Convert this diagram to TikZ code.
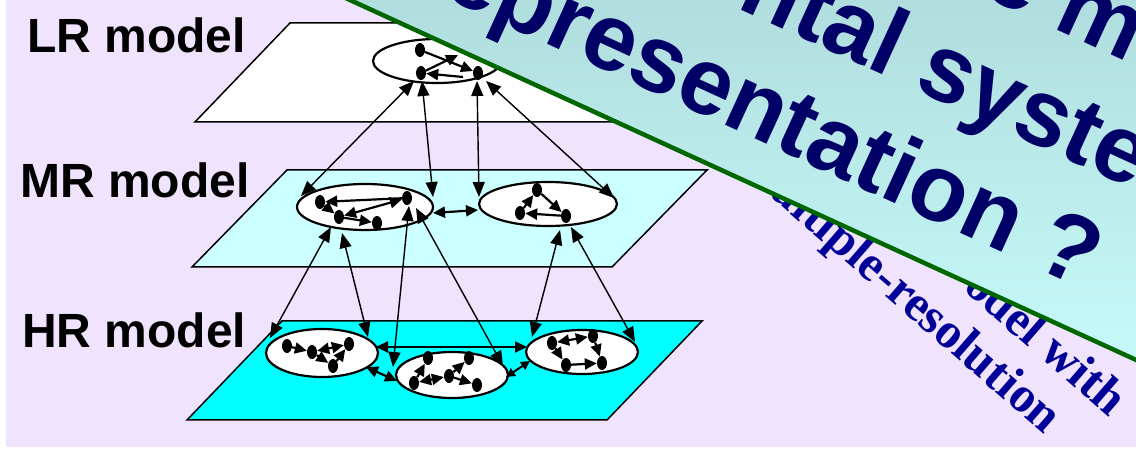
\documentclass[tikz,border=0pt]{standalone}
\usepackage{fontspec}
\setmainfont{Liberation Sans}
\newfontfamily\serifbf{Liberation Serif}
\usetikzlibrary{arrows.meta,shapes.geometric}
\definecolor{bg}{RGB}{240,227,253}
\definecolor{mrplane}{RGB}{204,255,255}
\definecolor{hrplane}{RGB}{0,255,255}
\definecolor{navy}{RGB}{0,0,102}
\definecolor{serifblue}{RGB}{0,0,153}
\definecolor{bantop}{RGB}{176,221,221}
\definecolor{banbot}{RGB}{198,250,250}
\definecolor{bangreen}{RGB}{0,102,0}
\begin{document}
\begin{tikzpicture}[x=1pt,y=-1pt,
  plane/.style={draw=black, line width=1.5pt, line join=miter},
  cluster/.style={ellipse, draw=black, fill=white, line width=2.2pt, inner sep=0pt},
  dot/.style={ellipse, fill=black, minimum width=10pt, minimum height=14pt, inner sep=0pt},
  link/.style={line width=1.4pt, {Triangle[length=15pt,width=12pt]}-{Triangle[length=15pt,width=12pt]}},
  inarr/.style={line width=2.2pt, -{Triangle[length=12pt,width=11pt]}},
  inarrb/.style={line width=2.2pt, {Triangle[length=12pt,width=11pt]}-{Triangle[length=12pt,width=11pt]}},
  inarrs/.style={line width=2pt, {Triangle[length=9pt,width=9pt]}-{Triangle[length=9pt,width=9pt]}},
  lvl/.style={font=\fontsize{48}{56}\selectfont\bfseries, anchor=base west, inner sep=0pt},
  bantext/.style={font=\fontsize{95}{113}\selectfont\bfseries, text=navy, inner sep=0pt, rotate=-24.6},
  sertext/.style={font=\serifbf\bfseries\fontsize{50}{60}\selectfont, text=serifblue, inner sep=0pt, rotate=-41, anchor=base east},
]
\useasboundingbox (0,0) rectangle (1136,454);
\clip (0,0) rectangle (1136,454);
\fill[white] (0,0) rectangle (1136,454);
\fill[bg] (6,0) rectangle (1136,447);

% level labels
\node[lvl] (lrlab) at (27,53) {LR model};
\node[lvl] (mrlab) at (20,198) {MR model};
\node[lvl] (hrlab) at (22,348) {HR model};

% planes
\draw[plane, fill=white] (290,23) -- (710,23) -- (615,122) -- (195,122) -- cycle;
\draw[plane, fill=mrplane] (287,170) -- (707,170) -- (612,267) -- (192,267) -- cycle;
\draw[plane, fill=hrplane] (282,321) -- (702,321) -- (607,420) -- (187,420) -- cycle;

% clusters
\node[cluster, minimum width=128pt, minimum height=44pt] (lr) at (437,61) {};
\node[cluster, minimum width=136pt, minimum height=46pt] (mr1) at (365,207) {};
\node[cluster, minimum width=138pt, minimum height=44pt] (mr2) at (548,204) {};
\node[cluster, minimum width=112pt, minimum height=48pt] (hr1) at (322,353) {};
\node[cluster, minimum width=112pt, minimum height=46pt] (hr2) at (452,375) {};
\node[cluster, minimum width=112pt, minimum height=44pt] (hr3) at (582,352) {};

% dots LR
\node[dot] (a) at (420,50) {};
\node[dot] (b) at (421,73) {};
\node[dot] (c) at (478,73) {};
% dots MR
\node[dot] (p) at (320,202) {};
\node[dot] (q) at (339,217) {};
\node[dot] (r) at (377,223) {};
\node[dot] (s) at (407,198) {};
\node[dot] (u) at (537,190) {};
\node[dot] (v) at (520,213) {};
\node[dot] (w) at (566,216) {};
% dots HR
\node[dot] (d1) at (287,346) {};
\node[dot] (d2) at (312,352) {};
\node[dot] (d3) at (349,344) {};
\node[dot] (d4) at (333,366) {};
\node[dot] (e1) at (414,383) {};
\node[dot] (e2) at (428,358) {};
\node[dot] (e3) at (449,376) {};
\node[dot] (e4) at (469,358) {};
\node[dot] (e5) at (477,385) {};
\node[dot] (f1) at (552,343) {};
\node[dot] (f2) at (593,336) {};
\node[dot] (f3) at (566,365) {};
\node[dot] (f4) at (602,363) {};

% arrows inside clusters
\coordinate (lrx) at (458,55);
\coordinate (lry) at (463,77);
\draw[inarr] (a) -- (c);
\draw[inarr] (b) -- (lrx);
\draw[inarr] (lry) -- (b);
\draw[inarr] (s) -- (p);
\draw[inarrb] (q) -- (s);
\draw[inarr] (p) -- (q);
\draw[inarr] (q) -- (r);
\draw[inarr] (u) -- (w);
\draw[inarr] (w) -- (v);
\draw[inarr] (v) -- (u);
\draw[inarr] (d1) -- (d2);
\draw[inarrb] (d2) -- (d3);
\draw[inarr] (d2) -- (d4);
\draw[inarr] (d4) -- (d3);
\draw[inarr] (e1) -- (e2);
\draw[inarrb] (e1) -- (e3);
\draw[inarr] (e3) -- (e4);
\draw[inarr] (e3) -- (e5);
\draw[inarrb] (f1) -- (f2);
\draw[inarr] (f1) -- (f3);
\draw[inarr] (f2) -- (f4);
\draw[inarr] (f3) -- (f4);

% arrows between clusters of one level
\coordinate (mma) at (433,213); \coordinate (mmb) at (478,210);
\coordinate (h12a) at (366,367); \coordinate (h12b) at (397,381);
\coordinate (h13a) at (376,347); \coordinate (h13b) at (527,347);
\coordinate (h23a) at (506,377); \coordinate (h23b) at (530,361);
\draw[inarrb] (mma) -- (mmb);
\draw[inarrb] (h12a) -- (h12b);
\draw[inarrb] (h13a) -- (h13b);
\draw[inarrs] (h23a) -- (h23b);

% links between levels
\coordinate (l1t) at (414,81); \coordinate (l1b) at (301,196);
\coordinate (l2t) at (422,81); \coordinate (l2b) at (433,197);
\coordinate (l3t) at (477,81); \coordinate (l3b) at (479,197);
\coordinate (l4t) at (486,81); \coordinate (l4b) at (614,198);
\coordinate (m1t) at (331,227); \coordinate (m1b) at (270,338);
\coordinate (m2t) at (342,233); \coordinate (m2b) at (368,337);
\coordinate (m3t) at (409,206); \coordinate (m3b) at (393,367);
\coordinate (m4t) at (416,208); \coordinate (m4b) at (503,366);
\coordinate (m5t) at (560,230); \coordinate (m5b) at (532,337);
\coordinate (m6t) at (571,227); \coordinate (m6b) at (635,342);
\draw[link] (l1t) -- (l1b);
\draw[link] (l2t) -- (l2b);
\draw[link] (l3t) -- (l3b);
\draw[link] (l4t) -- (l4b);
\draw[link] (m1t) -- (m1b);
\draw[link] (m2t) -- (m2b);
\draw[link] (m3t) -- (m3b);
\draw[link] (m4t) -- (m4b);
\draw[link] (m5t) -- (m5b);
\draw[link] (m6t) -- (m6b);

% rotated serif caption (partly under the banner)
\node[sertext] (capB) at (1045,435) {ultiple-resolution};
\node[sertext] (capA) at (1110,418) {odel with};

% banner
\shade[top color=bantop, bottom color=banbot] (339,-5) -- (1145,-5) -- (1145,364) -- cycle;
\draw[bangreen, line width=4.5pt] (339,-5) -- (1145,364);
\begin{scope}[shift={(350,0)}, rotate=-24.6]
  \node[bantext, anchor=base east] (t3) at (788,-42) {epresentation ?};
  \node[bantext, anchor=base west] (t2) at (353,-154) {ntal syste};
  \node[bantext, anchor=base west] (t1) at (570,-267) {e m};
\end{scope}
\end{tikzpicture}
\end{document}
